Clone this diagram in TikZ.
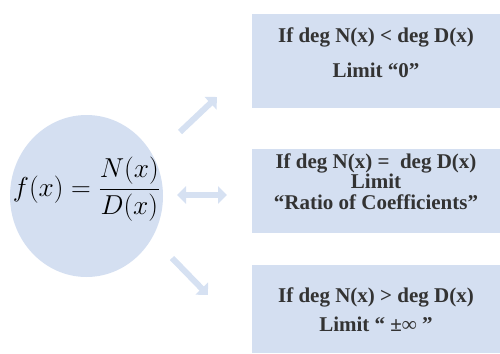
\documentclass[tikz,border=0pt]{standalone}
\usepackage{amsmath}
\usepackage{graphicx}
\usepackage{fontspec}
\usetikzlibrary{arrows.meta,shapes.geometric}
\newfontfamily\boxfont{Liberation Serif}
\definecolor{paleBlue}{HTML}{D4DFF1}
\definecolor{arrowBlue}{HTML}{D6E1F2}
\definecolor{textGray}{HTML}{333333}
\tikzset{
    fracdisc/.style={ellipse,fill=paleBlue,minimum width=153pt,
        minimum height=162pt,inner sep=0pt},
    casecard/.style={fill=paleBlue,minimum width=248pt,inner sep=0pt,
        text=textGray,font=\boxfont\bfseries\fontsize{21}{25}\selectfont},
    bigarrow/.style={-{Triangle[width=17pt,length=9pt]},draw=arrowBlue,
        line width=6pt},
    twoarrow/.style={{Triangle[width=17pt,length=9pt]}-{Triangle[width=17pt,length=9pt]},
        draw=arrowBlue,line width=6pt}
}

\begin{document}
\begin{tikzpicture}[x=1pt,y=1pt]
        \useasboundingbox (0,0) rectangle (500,-353);
        \node[fracdisc] (fraction) at (86.5,-196) {
            \makebox[0pt]{\smash{\scalebox{1.1}{\Huge$\displaystyle f(x)=\frac{N(x)}{D(x)}$}}}
        };
        \node[casecard,minimum height=94pt] (limitzero) at (376,-61) {
            \begin{minipage}[c][94pt][t]{248pt}
                \centering\fontsize{21}{35}\selectfont
                \vspace{14pt}
                If deg N(x) < deg D(x)\\
                Limit “0”
            \end{minipage}
        };
        \node[casecard,minimum height=84pt] (limitratio) at (376,-190.5) {
            \begin{minipage}[c][84pt][t]{248pt}
                \centering\fontsize{21}{20.5}\selectfont
                \vspace{5pt}
                If deg N(x) = \ deg D(x)\\
                Limit\\
                “Ratio of Coefficients”
            \end{minipage}
        };
        \node[casecard,minimum height=88pt] (limitinfinity) at (376,-309) {
            \begin{minipage}[c][88pt][t]{248pt}
                \centering\fontsize{21}{29}\selectfont
                \vspace{23pt}
                If deg N(x) > deg D(x)\\
                Limit “ ±∞ ”
            \end{minipage}
        };
        \coordinate (zerotail) at (180,-132);
        \coordinate (zerotip) at (217,-97);
        \coordinate (ratiotail) at (177,-195);
        \coordinate (ratiotip) at (227,-195);
        \coordinate (inftail) at (172,-258);
        \coordinate (inftip) at (208,-295);
        \draw[bigarrow] (zerotail) -- (zerotip);
        \draw[twoarrow] (ratiotail) -- (ratiotip);
        \draw[bigarrow] (inftail) -- (inftip);
    \end{tikzpicture}
\end{document}
